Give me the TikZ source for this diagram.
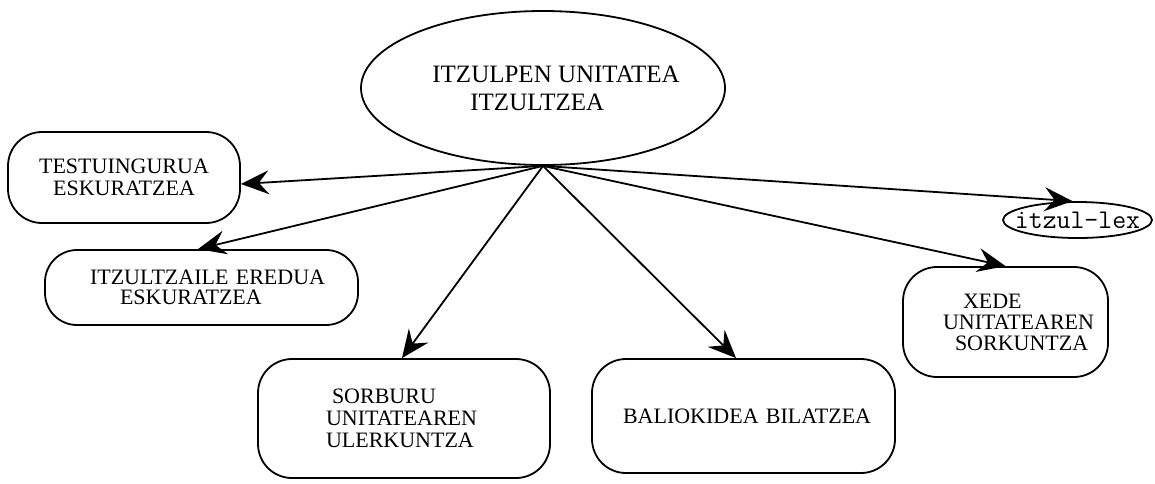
\documentclass[tikz,border=0pt]{standalone}
\usepackage{fontspec}
\setmainfont{Liberation Serif}
\usetikzlibrary{arrows.meta,shapes.geometric}
\begin{document}
\begin{tikzpicture}[x=1pt,y=-1pt,
  box/.style={draw, line width=1.8pt, rectangle, rounded corners=34pt, inner sep=0pt, align=left, font=\fontsize{22}{22}\selectfont},
  oval/.style={draw, line width=1.8pt, ellipse, inner sep=0pt},
  arr/.style={line width=1.8pt, -{Stealth[length=28pt,width=24pt,inset=10pt]}}]
\useasboundingbox (0,0) rectangle (1155,483);
\node[oval, minimum width=364pt, minimum height=154pt, align=left, font=\fontsize{25}{28}\selectfont] (e) at (543,88)
  {\hspace*{13pt}ITZULPEN UNITATEA\hspace*{-13pt}\\\hspace*{51pt}ITZULTZEA};
\node[box, align=center, text width=232pt, minimum height=91pt] (t) at (124,177.5)
  {TESTUINGURUA\\ESKURATZEA};
\node[box, rounded corners=32pt, text width=313pt, minimum height=75pt, font=\fontsize{22}{20}\selectfont] (i) at (201.5,287.5)
  {\hspace*{45pt}ITZULTZAILE EREDUA\\\hspace*{75pt}ESKURATZEA};
\node[box, text width=292pt, minimum height=119pt] (s) at (404,418.5)
  {\hspace*{74pt}SORBURU\\\hspace*{68pt}UNITATEAREN\\\hspace*{68pt}ULERKUNTZA};
\node[box, text width=303pt, minimum height=114pt] (b) at (743.5,416)
  {\hspace*{31pt}BALIOKIDEA BILATZEA};
\node[box, text width=205pt, minimum height=110pt, font=\fontsize{22}{21}\selectfont] (x) at (1005.5,322)
  {\hspace*{60pt}XEDE\\\hspace*{40pt}UNITATEAREN\\\hspace*{52pt}SORKUNTZA};
\node[oval, minimum width=149pt, minimum height=36pt, font=\fontsize{27}{27}\ttfamily] (l) at (1077.5,220)
  {\makebox[0pt]{itzul-lex}};
\draw[arr] (e.south) -- ([yshift=-6.5pt]t.east);
\draw[arr] (e.south) -- ([xshift=-3.5pt]i.north);
\draw[arr] (e.south) -- ([xshift=-2pt]s.north);
\draw[arr] (e.south) -- ([xshift=-7.5pt]b.north);
\draw[arr] (e.south) -- (x.north);
\draw[arr] (e.south) -- ([xshift=-5pt]l.north);
\end{tikzpicture}
\end{document}
